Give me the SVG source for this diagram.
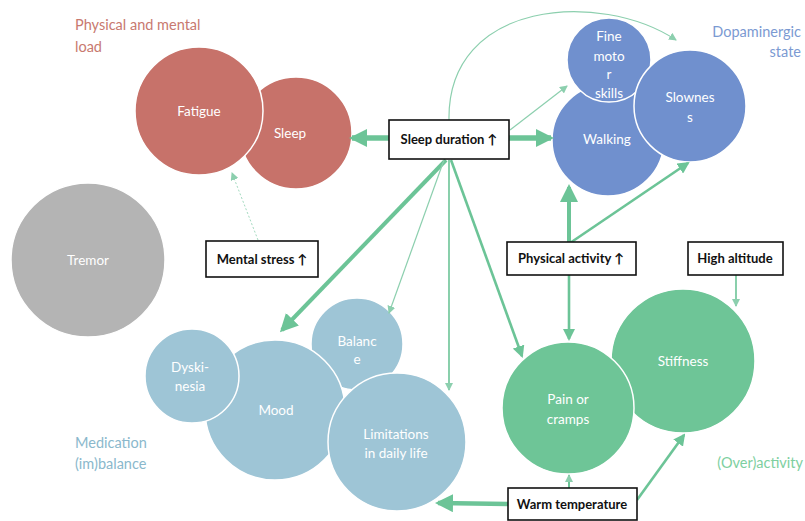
<svg xmlns="http://www.w3.org/2000/svg" width="805" height="521" viewBox="0 0 805 521">
<style>
  .c { stroke: #ffffff; stroke-width: 1.5; }
  .red { fill: #C7726A; }
  .gray { fill: #B4B4B4; }
  .dop { fill: #7090CE; }
  .lb { fill: #9EC5D6; }
  .grn { fill: #6EC597; }
  .ct { font-family: Lato, "Liberation Sans", sans-serif; font-size: 13.5px; fill: #ffffff; text-anchor: middle; }
  .box { fill: #ffffff; stroke: #111111; stroke-width: 1.6; }
  .bt { font-family: Lato, "Liberation Sans", sans-serif; font-size: 13px; font-weight: bold; fill: #111111; text-anchor: middle; }
  .grp { font-family: Lato, "Liberation Sans", sans-serif; font-size: 14.5px; }
  .ln { fill: none; stroke: #6CC497; }
  .thin { fill: none; stroke: #8CCFAE; }
</style>
<defs>
  <marker id="big" markerUnits="userSpaceOnUse" markerWidth="18" markerHeight="18" viewBox="0 0 18 18" refX="15" refY="9" orient="auto">
    <path d="M0,0 L18,9 L0,18 z" fill="#6CC497"/>
  </marker>
  <marker id="med" markerUnits="userSpaceOnUse" markerWidth="12" markerHeight="12" viewBox="0 0 12 12" refX="10" refY="6" orient="auto">
    <path d="M0,0 L12,6 L0,12 z" fill="#6CC497"/>
  </marker>
  <marker id="sm" markerUnits="userSpaceOnUse" markerWidth="8" markerHeight="8" viewBox="0 0 8 8" refX="7" refY="4" orient="auto">
    <path d="M0,0 L8,4 L0,8 z" fill="#8CCFAE"/>
  </marker>
</defs>
<rect width="805" height="521" fill="#ffffff"/>

<!-- group labels -->
<g id="label-physical">
  <text class="grp" x="75" y="30" fill="#C8796F">Physical and mental</text>
  <text class="grp" x="75" y="52" fill="#C8796F">load</text>
</g>
<g id="label-dopaminergic">
  <text class="grp" x="801" y="37" fill="#7B9AD2" text-anchor="end">Dopaminergic</text>
  <text class="grp" x="801" y="57" fill="#7B9AD2" text-anchor="end">state</text>
</g>
<g id="label-medication">
  <text class="grp" x="75" y="448" fill="#8AB8CC">Medication</text>
  <text class="grp" x="75" y="469" fill="#8AB8CC">(im)balance</text>
</g>
<g id="label-overactivity">
  <text class="grp" x="803" y="468" fill="#7DCFA0" text-anchor="end">(Over)activity</text>
</g>

<!-- circles -->
<g id="sleep"><circle class="c red" cx="296" cy="133" r="56"/><text class="ct" x="290" y="138">Sleep</text></g>
<g id="fatigue"><circle class="c red" cx="199" cy="111" r="64"/><text class="ct" x="199" y="116">Fatigue</text></g>
<g id="tremor"><circle class="c gray" cx="88" cy="260" r="77"/><text class="ct" x="88" y="265">Tremor</text></g>
<g id="walking"><circle class="c dop" cx="608" cy="140" r="56"/><text class="ct" x="607" y="144">Walking</text></g>
<g id="fine-motor"><circle class="c dop" cx="609" cy="60" r="42"/>
  <text class="ct" x="609" y="41">Fine</text><text class="ct" x="609" y="61">moto</text><text class="ct" x="609" y="79">r</text><text class="ct" x="609" y="98">skills</text></g>
<g id="slowness"><circle class="c dop" cx="690" cy="106" r="56"/>
  <text class="ct" x="690" y="102">Slownes</text><text class="ct" x="690" y="122">s</text></g>
<g id="balance"><circle class="c lb" cx="357" cy="344" r="46"/>
  <text class="ct" x="357" y="346">Balanc</text><text class="ct" x="357" y="364">e</text></g>
<g id="mood"><circle class="c lb" cx="275" cy="410" r="70"/><text class="ct" x="276" y="415">Mood</text></g>
<g id="dyskinesia"><circle class="c lb" cx="192" cy="376" r="47"/>
  <text class="ct" x="190" y="372">Dyski-</text><text class="ct" x="190" y="391">nesia</text></g>
<g id="limitations"><circle class="c lb" cx="397" cy="442" r="69"/>
  <text class="ct" x="396" y="439">Limitations</text><text class="ct" x="396" y="458">in daily life</text></g>
<g id="stiffness"><circle class="c grn" cx="683" cy="361" r="72"/><text class="ct" x="683" y="366">Stiffness</text></g>
<g id="pain"><circle class="c grn" cx="568" cy="408" r="66"/>
  <text class="ct" x="568" y="404">Pain or</text><text class="ct" x="568" y="424">cramps</text></g>

<!-- connectors -->
<g id="connectors">
  <line class="ln" x1="389" y1="138" x2="352" y2="138" stroke-width="5.5" marker-end="url(#big)"/>
  <line class="ln" x1="509" y1="138" x2="551" y2="138" stroke-width="5.5" marker-end="url(#big)"/>
  <path class="thin" d="M449,120 C447,0 600,-10 676,40" stroke-width="1.2" marker-end="url(#sm)"/>
  <line class="thin" x1="510" y1="130" x2="567" y2="86" stroke-width="1.2" marker-end="url(#sm)"/>
  <line class="ln" x1="446" y1="160" x2="282" y2="330" stroke-width="4" marker-end="url(#big)"/>
  <line class="thin" x1="444" y1="160" x2="389" y2="313" stroke-width="1.2" marker-end="url(#sm)"/>
  <line class="ln" x1="449" y1="160" x2="449" y2="390" stroke-width="1.6" marker-end="url(#sm)"/>
  <line class="ln" x1="451" y1="160" x2="522" y2="356" stroke-width="2.6" marker-end="url(#med)"/>
  <line class="thin" x1="258" y1="240" x2="232" y2="173" stroke-width="0.8" stroke-dasharray="2,2" marker-end="url(#sm)"/>
  <line class="ln" x1="569" y1="243" x2="569" y2="187" stroke-width="4" marker-end="url(#big)"/>
  <line class="ln" x1="570" y1="243" x2="688" y2="163" stroke-width="2.6" marker-end="url(#med)"/>
  <line class="ln" x1="569" y1="275" x2="569" y2="339" stroke-width="2.6" marker-end="url(#med)"/>
  <line class="ln" x1="736" y1="275" x2="736" y2="306" stroke-width="1.6" marker-end="url(#sm)"/>
  <line class="ln" x1="508" y1="504" x2="438" y2="503" stroke-width="4.5" marker-end="url(#big)"/>
  <line class="ln" x1="569" y1="488" x2="569" y2="475" stroke-width="2" marker-end="url(#sm)"/>
  <line class="ln" x1="637" y1="500" x2="684" y2="435" stroke-width="2.6" marker-end="url(#med)"/>
</g>

<!-- boxes -->
<g id="sleep-duration"><rect class="box" x="389" y="120" width="120" height="39"/><text class="bt" x="449" y="144">Sleep duration ↑</text></g>
<g id="mental-stress"><rect class="box" x="206" y="241" width="112" height="36"/><text class="bt" x="262" y="264">Mental stress ↑</text></g>
<g id="physical-activity"><rect class="box" x="507" y="242" width="129" height="33"/><text class="bt" x="571" y="263">Physical activity ↑</text></g>
<g id="high-altitude"><rect class="box" x="688" y="242" width="95" height="33"/><text class="bt" x="735" y="263">High altitude</text></g>
<g id="warm-temperature"><rect class="box" x="508" y="488" width="129" height="32"/><text class="bt" x="572" y="509">Warm temperature</text></g>
</svg>
